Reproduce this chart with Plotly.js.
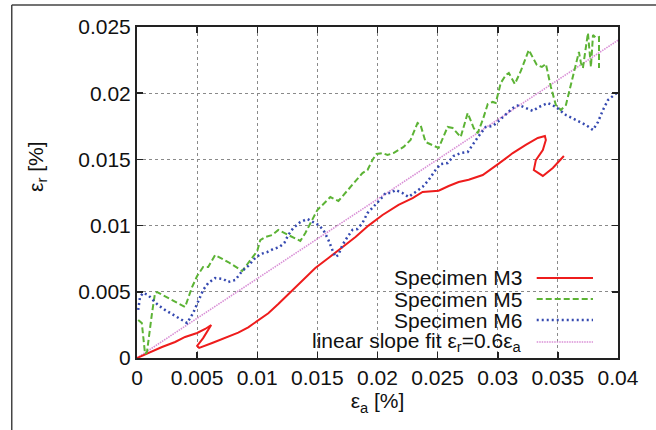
<!DOCTYPE html>
<html>
<head>
<meta charset="utf-8">
<script src="https://cdn.plot.ly/plotly-3.0.1.min.js"></script>
<style>html,body{margin:0;padding:0;background:#fff;}#chart{width:656px;height:430px;}</style>
</head>
<body>
<div id="chart"></div>
<script>
// ---- data ----
const m3X = [0,0.00092,0.00208,0.00317,0.0040,0.0050,0.00567,0.00617,0.0055,0.0050,0.00517,0.00625,0.00733,0.00842,0.00925,0.01008,0.01092,0.01175,0.01258,0.01342,0.01483,0.01592,0.01708,0.01817,0.01925,0.02042,0.02175,0.02292,0.02375,0.02508,0.02592,0.02675,0.02758,0.02875,0.03008,0.03125,0.03233,0.03333,0.03392,0.034,0.03375,0.03317,0.033,0.03375,0.03458,0.0355];
const m3Y = [0,0.00038,0.00083,0.00121,0.00159,0.00189,0.00219,0.00249,0.0015,0.00091,0.00076,0.00113,0.00151,0.00192,0.00232,0.00282,0.00338,0.00408,0.00482,0.0056,0.0068,0.00755,0.00838,0.00914,0.01,0.0108,0.01156,0.01208,0.01254,0.01264,0.01299,0.01329,0.01346,0.01382,0.01468,0.01548,0.01609,0.01662,0.01677,0.01647,0.01571,0.01495,0.0142,0.01375,0.01435,0.01526];

const m5X = [0.0001,0.0004,0.00067,0.00083,0.00125,0.0015,0.00167,0.00258,0.004,0.00458,0.005,0.0055,0.00592,0.0065,0.00758,0.00875,0.00925,0.01,0.01025,0.01067,0.01125,0.01175,0.01258,0.01358,0.014,0.01458,0.015,0.01567,0.01608,0.01675,0.01733,0.018,0.01875,0.01917,0.01958,0.01992,0.02042,0.02083,0.02133,0.02217,0.02275,0.02333,0.02358,0.024,0.02508,0.02583,0.02625,0.02692,0.0275,0.028,0.02833,0.02875,0.02917,0.02958,0.02983,0.03025,0.03067,0.03092,0.03142,0.03192,0.03258,0.03325,0.03367,0.034,0.03442,0.03483,0.03525,0.03567,0.03608,0.0365,0.03675,0.03692,0.03708,0.0375,0.03775,0.03792,0.03817,0.03842,0.03842];
const m5Y = [0.00287,0.00264,0.0003,0.00045,0.0034,0.00491,0.00498,0.00453,0.00385,0.00536,0.00619,0.00687,0.00687,0.00778,0.00725,0.00657,0.00718,0.00808,0.00891,0.00914,0.00929,0.00967,0.00929,0.00884,0.00944,0.01042,0.01118,0.01178,0.01216,0.01186,0.01246,0.01322,0.01397,0.0142,0.01495,0.01541,0.01548,0.01533,0.01548,0.01594,0.01647,0.01775,0.0176,0.01631,0.01586,0.01745,0.01737,0.01669,0.0185,0.01737,0.01699,0.01798,0.01918,0.01934,0.01926,0.02077,0.02137,0.02153,0.0207,0.02168,0.02326,0.02213,0.02198,0.02221,0.02047,0.01911,0.01873,0.01911,0.0207,0.02228,0.02311,0.02228,0.0219,0.02455,0.02198,0.0244,0.02417,0.02424,0.0219];

const m6X = [0.0001,0.00025,0.0005,0.00092,0.00133,0.00175,0.00233,0.00317,0.00417,0.00467,0.00508,0.0055,0.00592,0.0065,0.00717,0.00758,0.00817,0.00875,0.00925,0.00975,0.01025,0.01083,0.01133,0.01183,0.01225,0.01258,0.013,0.01358,0.01417,0.01467,0.01508,0.0155,0.01592,0.01625,0.0165,0.01675,0.01708,0.0175,0.01792,0.01833,0.01875,0.01917,0.01958,0.02,0.02042,0.02067,0.02108,0.0215,0.02208,0.02258,0.02317,0.02375,0.02425,0.02483,0.02525,0.02583,0.02633,0.02692,0.0275,0.02792,0.02842,0.029,0.02958,0.03008,0.03067,0.03125,0.03175,0.03233,0.03292,0.03342,0.03417,0.03483,0.03567,0.0365,0.03733,0.03792,0.03833,0.03875,0.03917,0.03958,0.04];
const m6Y = [0.00363,0.00461,0.00491,0.00476,0.00438,0.004,0.00363,0.00317,0.00264,0.0034,0.0043,0.00514,0.00566,0.00604,0.00597,0.00574,0.00589,0.00657,0.00695,0.00748,0.00785,0.008,0.00823,0.00838,0.00869,0.00929,0.00982,0.01027,0.0105,0.01027,0.01005,0.00967,0.00891,0.00816,0.00763,0.00778,0.00853,0.00914,0.00967,0.00974,0.0102,0.01095,0.01133,0.01171,0.01216,0.01246,0.01246,0.01269,0.01246,0.01216,0.01254,0.01292,0.01344,0.0142,0.01465,0.01473,0.01526,0.01548,0.01556,0.01616,0.01677,0.01745,0.01752,0.0179,0.01843,0.01888,0.01911,0.01888,0.01866,0.01896,0.01926,0.01896,0.01835,0.01798,0.0176,0.01722,0.01782,0.01873,0.01949,0.01979,0.02009];

const fitX = [0, 0.04];
const fitY = [0, 0.024];

const seriesNames = ["Specimen M3", "Specimen M5", "Specimen M6", "linear slope fit ε<sub>r</sub>=0.6ε<sub>a</sub>"];
const xTickVals = [0,0.005,0.01,0.015,0.02,0.025,0.03,0.035,0.04];
const xTickText = ["0","0.005","0.01","0.015","0.02","0.025","0.03","0.035","0.04"];
const yTickVals = [0,0.005,0.01,0.015,0.02,0.025];
const yTickText = ["0","0.005","0.01","0.015","0.02","0.025"];

// ---- styles ----
const FONT = "Liberation Sans, Arial, sans-serif";
const FS = 21;
const colors = ["#ee1c1c", "#5cb335", "#3549b0", "#d98fd6"];
const dashes = ["solid", "6px,3px", "2px,3px", "1.5px,1px"];
const widths = [2, 2, 2.5, 1.6];

const traces = [
  {x: m3X, y: m3Y},
  {x: m5X, y: m5Y},
  {x: m6X, y: m6Y},
  {x: fitX, y: fitY}
].map((t, i) => ({
  x: t.x, y: t.y, type: "scatter", mode: "lines", name: seriesNames[i],
  line: {color: colors[i], width: widths[i], dash: dashes[i]},
  showlegend: false, hoverinfo: "skip"
}));
const ordered = [traces[3], traces[0], traces[1], traces[2]];

const axisCommon = {
  showgrid: true, gridcolor: "#8a8a8a", griddash: "dot", gridwidth: 1,
  showline: true, linecolor: "#222", linewidth: 2, mirror: "ticks",
  ticks: "inside", ticklen: 6, tickwidth: 1.5, tickcolor: "#222",
  zeroline: false, tickfont: {family: FONT, size: FS, color: "#111"}
};

const legRowsY = [0.2417, 0.1782, 0.1148, 0.0483];
const annotations = seriesNames.map((n, i) => ({
  xref: "paper", yref: "paper", x: 0.804, y: legRowsY[i],
  xanchor: "right", yanchor: "middle", showarrow: false,
  text: n, font: {family: FONT, size: FS, color: "#111"}
}));
annotations.push({
  xref: "paper", yref: "paper", x: -0.208, y: 0.577, textangle: -90,
  xanchor: "center", yanchor: "middle", showarrow: false,
  text: "ε<sub>r</sub> [%]", font: {family: FONT, size: FS, color: "#111"}
});

const shapes = [
  {type: "rect", xref: "paper", yref: "paper", x0: 0.1667, x1: 1, y0: 0, y1: 0.275,
   fillcolor: "#fff", line: {width: 0}, layer: "between"},
  {type: "line", xref: "paper", yref: "paper", x0: -0.2604, x1: 1.09, y0: 1.0665, y1: 1.0665,
   line: {color: "#444", width: 1.5}},
  {type: "line", xref: "paper", yref: "paper", x0: -0.2604, x1: -0.2604, y0: 1.0665, y1: -0.22,
   line: {color: "#444", width: 1.5}}
];
seriesNames.forEach((n, i) => {
  shapes.push({type: "line", xref: "paper", yref: "paper", x0: 0.831, x1: 0.948,
    y0: legRowsY[i], y1: legRowsY[i],
    line: {color: colors[i], width: widths[i], dash: dashes[i]}});
});

const layout = {
  width: 656, height: 430,
  margin: {l: 137, r: 38, t: 27, b: 72, pad: 0},
  paper_bgcolor: "#fff", plot_bgcolor: "#fff",
  font: {family: FONT, size: FS, color: "#111"},
  xaxis: Object.assign({}, axisCommon, {
    range: [0, 0.04], tickvals: xTickVals, ticktext: xTickText,
    title: {text: "ε<sub>a</sub> [%]", font: {family: FONT, size: FS, color: "#111"}, standoff: 5}
  }),
  yaxis: Object.assign({}, axisCommon, {
    range: [0, 0.025], tickvals: yTickVals, ticktext: yTickText
  }),
  showlegend: false,
  annotations: annotations,
  shapes: shapes
};

Plotly.newPlot("chart", ordered, layout, {displayModeBar: false, staticPlot: true});
</script>
</body>
</html>
